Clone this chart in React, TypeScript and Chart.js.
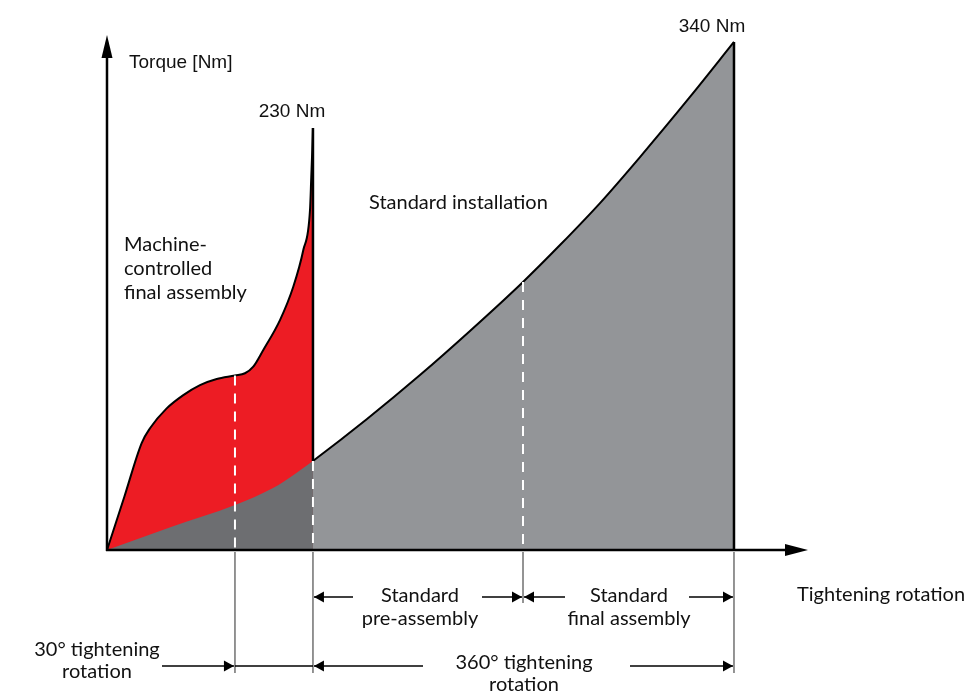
import React, { useEffect, useRef } from "react";
import { Chart, registerables } from "chart.js";

Chart.register(...registerables);

// Schematic torque build-up. x: relative tightening rotation (0 = start, 100 = end of standard run)
// y: torque (schematic units, 340 = final standard torque)
const standardX = [0, 10.21, 20.41, 26.48, 29.98, 32.85, 41.47, 49.92, 57.89, 66.35, 72.25, 78.63, 85.01, 92.98, 100];
const standardY = [0, 15.4, 30.1, 41.5, 50.9, 59.6, 87.7, 117.1, 146.6, 179.4, 204.1, 232.2, 263.0, 303.2, 340];

// portion of the standard curve lying under the machine-controlled curve (overlap)
const overlapCount = 6;

const machineX = [0, 2.78, 5.53, 6.86, 9.52, 12.17, 14.83, 17.5, 20.41, 22.01, 23.33, 24.93, 27.59, 29.71, 31.31, 32.38, 32.58, 32.74, 32.85];
const machineY = [0, 35.8, 71.6, 81.5, 94.8, 103.7, 110.4, 114.5, 116.8, 118.3, 122.7, 133.9, 153.9, 176.2, 200.8, 227.6, 249.6, 267.7, 282.4];

// phase boundaries: 30° machine step end, 360° start, pre-assembly end, final end
const markerX = [20.41, 32.85, 66.35, 100];
const markerTop = [116.8, 59.6, 179.4, 340];
const machinePeak = 282.4;

const peakLabels = ["230 Nm", "340 Nm"];
const axisTitleY = "Torque [Nm]";
const axisTitleX = "Tightening rotation";
const machineLabel = ["Machine-", "controlled", "final assembly"];
const standardLabel = "Standard installation";
const preLabel = ["Standard", "pre-assembly"];
const finalLabel = ["Standard", "final assembly"];
const label30 = ["30° tightening", "rotation"];
const label360 = ["360° tightening", "rotation"];

const RED = "#ED1C24";
const DARK = "#6D6E71";
const LIGHT = "#939598";

const pts = (xs: number[], ys: number[]) => xs.map((x, i) => ({ x, y: ys[i] }));

const SANS = '"Liberation Sans", Arial, sans-serif';
const MY = 'Lato, "Open Sans", sans-serif';

const annotations = {
  id: "annotations",
  afterDatasetsDraw(chart: any) {
    const ctx: CanvasRenderingContext2D = chart.ctx;
    const xs = chart.scales.x;
    const ys = chart.scales.y;
    const px = (v: number) => xs.getPixelForValue(v);
    const py = (v: number) => ys.getPixelForValue(v);
    const ox = px(0);
    const oy = py(0);
    const m = markerX.map(px);

    ctx.save();
    // axes
    ctx.strokeStyle = "#000";
    ctx.fillStyle = "#000";
    ctx.lineWidth = 2.5;
    ctx.beginPath();
    ctx.moveTo(ox, oy + 1);
    ctx.lineTo(ox, 56);
    ctx.moveTo(ox - 1, oy);
    ctx.lineTo(786, oy);
    ctx.stroke();
    ctx.beginPath();
    ctx.moveTo(ox, 35);
    ctx.lineTo(ox - 5.5, 58);
    ctx.lineTo(ox + 5.5, 58);
    ctx.closePath();
    ctx.fill();
    ctx.beginPath();
    ctx.moveTo(808, oy);
    ctx.lineTo(785, oy - 6);
    ctx.lineTo(785, oy + 6);
    ctx.closePath();
    ctx.fill();

    // extension lines
    ctx.strokeStyle = "#666";
    ctx.lineWidth = 1.4;
    const extBottom = [oy + 123, oy + 123, oy + 53, oy + 123];
    m.forEach((x, i) => {
      ctx.beginPath();
      ctx.moveTo(x, oy + 2);
      ctx.lineTo(x, extBottom[i]);
      ctx.stroke();
    });

    // dimension arrows
    const row1 = oy + 47;
    const row2 = oy + 116;
    const arrow = (from: number, tip: number, y: number, head: boolean) => {
      ctx.strokeStyle = "#000";
      ctx.lineWidth = 1.3;
      ctx.beginPath();
      ctx.moveTo(from, y);
      ctx.lineTo(tip, y);
      ctx.stroke();
      if (head) {
        const d = tip > from ? -1 : 1;
        ctx.beginPath();
        ctx.moveTo(tip, y);
        ctx.lineTo(tip + d * 10, y - 5.5);
        ctx.lineTo(tip + d * 10, y + 5.5);
        ctx.closePath();
        ctx.fill();
      }
    };
    arrow(353, m[1] + 1, row1, true);
    arrow(482, m[2] - 1, row1, true);
    arrow(565, m[2] + 1, row1, true);
    arrow(689, m[3] - 1, row1, true);
    arrow(162, m[0] - 1, row2, true);
    arrow(m[0], m[1], row2, false);
    arrow(423, m[1] + 1, row2, true);
    arrow(630, m[3] - 1, row2, true);

    // texts
    const text = (t: string, x: number, y: number, font: string, align: CanvasTextAlign) => {
      ctx.font = font;
      ctx.textAlign = align;
      ctx.textBaseline = "alphabetic";
      ctx.fillStyle = "#111";
      ctx.fillText(t, x, y);
    };
    const f1 = `19px ${SANS}`;
    const f2 = `20px ${MY}`;
    text(axisTitleY, ox + 22, 68, f1, "left");
    text(peakLabels[0], m[1] - 21, 117, f1, "center");
    text(peakLabels[1], m[3] - 22, 32, f1, "center");
    text(standardLabel, 369, 209, f2, "left");
    machineLabel.forEach((t, i) => text(t, 124, 251 + i * 24, f2, "left"));
    text(axisTitleX, 797, oy + 51, f2, "left");
    preLabel.forEach((t, i) => text(t, 420, oy + 52 + i * 23, f2, "center"));
    finalLabel.forEach((t, i) => text(t, 629, oy + 52 + i * 23, f2, "center"));
    label30.forEach((t, i) => text(t, 97, oy + 106 + i * 22, f2, "center"));
    label360.forEach((t, i) => text(t, 524, oy + 119 + i * 22, f2, "center"));
    ctx.restore();
  },
};

export default function App() {
  const ref = useRef<HTMLCanvasElement | null>(null);

  useEffect(() => {
    if (!ref.current) return;
    const cutX = markerX[1];
    const dashed = (i: number) => ({
      data: [
        { x: markerX[i], y: markerTop[i] },
        { x: markerX[i], y: 0 },
      ],
      borderColor: "#fff",
      borderWidth: 2,
      borderDash: [10, 8],
      fill: false,
      tension: 0,
      order: 1,
    });
    const chart = new Chart(ref.current, {
      type: "line",
      data: {
        datasets: [
          {
            label: "Standard installation",
            data: pts(standardX, standardY),
            backgroundColor: LIGHT,
            borderColor: "#000",
            borderWidth: 2,
            fill: "origin",
            cubicInterpolationMode: "monotone",
            segment: {
              borderColor: (c: any) => (c.p0.parsed.x >= cutX - 0.01 ? "#000" : "rgba(0,0,0,0)"),
            },
            order: 6,
          },
          {
            label: "Machine-controlled",
            data: pts(machineX, machineY),
            backgroundColor: RED,
            borderColor: "#000",
            borderWidth: 2,
            fill: "origin",
            cubicInterpolationMode: "monotone",
            order: 5,
          },
          {
            label: "Overlap",
            data: pts(standardX.slice(0, overlapCount), standardY.slice(0, overlapCount)),
            backgroundColor: DARK,
            borderColor: "rgba(0,0,0,0)",
            borderWidth: 0,
            fill: "origin",
            cubicInterpolationMode: "monotone",
            order: 4,
          },
          {
            label: "Peak edge",
            data: [
              { x: markerX[1], y: machinePeak },
              { x: markerX[1], y: markerTop[1] },
            ],
            borderColor: "#000",
            borderWidth: 2.5,
            fill: false,
            tension: 0,
            order: 3,
          },
          {
            label: "End edge",
            data: [
              { x: markerX[3], y: markerTop[3] },
              { x: markerX[3], y: 0 },
            ],
            borderColor: "#000",
            borderWidth: 2.5,
            fill: false,
            tension: 0,
            order: 3,
          },
          dashed(0),
          dashed(1),
          dashed(2),
        ],
      },
      options: {
        animation: false,
        responsive: false,
        layout: { padding: 0 },
        elements: { point: { radius: 0, hoverRadius: 0 } },
        plugins: { legend: { display: false }, tooltip: { enabled: false }, title: { display: false } },
        events: [],
        scales: {
          x: { type: "linear", display: false, min: -17.065, max: 138.28 },
          y: { type: "linear", display: false, min: -98.39, max: 368.11 },
        },
      } as any,
      plugins: [annotations],
    });
    return () => chart.destroy();
  }, []);

  return (
    <div style={{ position: "absolute", left: 0, top: 0, width: 974, height: 697, background: "#fff" }}>
      <canvas ref={ref} width={974} height={697} style={{ display: "block" }} />
    </div>
  );
}
